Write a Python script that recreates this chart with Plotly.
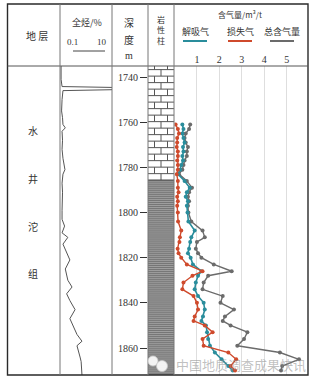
import plotly.graph_objects as go

W, H = 316, 382

# ---------------- data ----------------
depth = [1761, 1763, 1765, 1767, 1769, 1771, 1773, 1775, 1777, 1779, 1781, 1783,
         1786, 1789, 1791, 1793, 1795, 1797, 1800, 1804, 1808, 1811, 1813, 1816,
         1818, 1820, 1823, 1826, 1828, 1831, 1834, 1837, 1840, 1843, 1846, 1848,
         1850, 1853, 1856, 1859, 1862, 1865, 1868, 1870]
desorbed = [0.35, 0.40, 0.35, 0.40, 0.45, 0.38, 0.40, 0.35, 0.38, 0.30, 0.25, 0.15,
            0.45, 0.68, 0.55, 0.50, 0.60, 0.55, 0.58, 0.62, 0.90, 0.75, 0.70, 0.65,
            0.60, 0.72, 0.82, 1.20, 1.05, 0.95, 0.90, 1.05, 1.30, 1.35, 1.27, 1.20,
            1.40, 1.45, 1.50, 1.58, 1.80, 2.10, 2.40, 2.60]
lost = [0.05, 0.15, 0.20, 0.12, 0.12, 0.10, 0.15, 0.15, 0.12, 0.15, 0.15, 0.10,
        0.15, 0.15, 0.18, 0.12, 0.15, 0.12, 0.15, 0.16, 0.30, 0.24, 0.22, 0.14,
        0.18, 0.30, 0.55, 1.25, 0.80, 0.40, 0.35, 0.85, 1.00, 1.05, 0.90, 0.85,
        1.35, 1.70, 1.25, 1.30, 2.40, 2.75, 2.50, 2.70]
total = [0.70, 0.65, 0.50, 0.45, 0.50, 0.60, 0.55, 0.55, 0.45, 0.40, 0.35, 0.20,
         0.55, 0.78, 0.65, 0.60, 0.65, 0.60, 0.62, 0.75, 1.25, 1.35, 1.00, 0.95,
         1.05, 1.20, 1.75, 2.55, 1.50, 1.30, 1.25, 2.15, 2.05, 2.65, 2.25, 2.15,
         2.50, 3.25, 3.10, 2.80, 4.70, 5.55, 4.80, 4.75]

tg_depth = [1735.1, 1741, 1744.2, 1744.6, 1745.6, 1746.0, 1750, 1755, 1758, 1761,
            1762.5, 1764, 1768, 1772, 1776, 1779, 1781, 1783, 1787, 1791, 1795,
            1799, 1803, 1806, 1809, 1811, 1814, 1818, 1821, 1825, 1830, 1833,
            1836, 1839, 1843, 1847, 1850, 1854, 1857, 1859, 1864, 1866, 1872]
tg_value = [0.11, 0.11, 0.12, 11.0, 10.0, 0.13, 0.12, 0.115, 0.125, 0.13,
            0.16, 0.12, 0.125, 0.12, 0.13, 0.14, 0.155, 0.13, 0.12, 0.125, 0.12,
            0.12, 0.12, 0.15, 0.12, 0.20, 0.13, 0.18, 0.24, 0.16, 0.20, 0.29,
            0.18, 0.24, 0.38, 0.24, 0.32, 0.45, 0.70, 0.45, 0.59, 0.65, 0.70]

litho_top = [1735.1, 1785.6]
litho_base = [1785.6, 1872.0]
litho_type = ["limestone", "shale"]

depth_ticks = [1740, 1760, 1780, 1800, 1820, 1840, 1860]
gas_ticks = [1, 2, 3, 4, 5]
strata_chars = ["水", "井", "沱", "组"]

# ---------------- helpers ----------------
def px(x):
    return x / W


def py(y):
    return 1 - y / H


CJK = "Noto Sans CJK SC"
SERIF = "Liberation Serif"
TXT = "#333333"
TEAL = "#2a8d9c"
RED = "#cf4a2c"
GRAY = "#6b6b6b"

fig = go.Figure()

fig.add_trace(go.Scatter(x=total, y=depth, xaxis="x", yaxis="y", mode="lines+markers",
                         line=dict(color=GRAY, width=1.4), marker=dict(size=4, color=GRAY),
                         name="总含气量", showlegend=False))
fig.add_trace(go.Scatter(x=desorbed, y=depth, xaxis="x", yaxis="y", mode="lines+markers",
                         line=dict(color=TEAL, width=1.6), marker=dict(size=4, color=TEAL),
                         name="解吸气", showlegend=False))
fig.add_trace(go.Scatter(x=lost, y=depth, xaxis="x", yaxis="y", mode="lines+markers",
                         line=dict(color=RED, width=1.4), marker=dict(size=4, color=RED),
                         name="损失气", showlegend=False))
fig.add_trace(go.Scatter(x=tg_value, y=tg_depth, xaxis="x2", yaxis="y", mode="lines",
                         line=dict(color="#555555", width=1), showlegend=False))

shapes = []

# lithology column
for top, base, kind in zip(litho_top, litho_base, litho_type):
    if kind == "limestone":
        step = 2.88
        d = top + 1.6
        row = 0
        prev = top
        while prev < base - 0.01:
            nxt = min(d, base)
            joints = [0.5] if row % 2 else [0.25, 0.75]
            for j in joints:
                shapes.append(dict(type="line", xref="x3", yref="y", x0=j, x1=j, y0=prev, y1=nxt,
                                   line=dict(color="#555555", width=1)))
            if nxt < base:
                shapes.append(dict(type="line", xref="x3", yref="y", x0=0, x1=1, y0=nxt, y1=nxt,
                                   line=dict(color="#555555", width=1)))
            prev = nxt
            d += step
            row += 1
    else:
        shapes.append(dict(type="rect", xref="x3", yref="y", x0=0, x1=1, y0=top, y1=base,
                           fillcolor="#767676", line=dict(width=0), layer="below"))
        d = top + 0.5
        while d < base:
            shapes.append(dict(type="line", xref="x3", yref="y", x0=0, x1=1, y0=d, y1=d,
                               line=dict(color="#b0b0b0", width=0.7)))
            d += 0.9
        shapes.append(dict(type="line", xref="x3", yref="y", x0=0, x1=1, y0=top, y1=top,
                           line=dict(color="#444444", width=1)))

# table frame
shapes.append(dict(type="rect", xref="paper", yref="paper", x0=px(7.5), x1=px(308), y0=py(375), y1=py(4),
                   line=dict(color="#2a2a2a", width=1.4)))
shapes.append(dict(type="line", xref="paper", yref="paper", x0=px(7.5), x1=px(308), y0=py(66), y1=py(66),
                   line=dict(color="#555555", width=1)))
for xc in [60, 112, 148, 174]:
    shapes.append(dict(type="line", xref="paper", yref="paper", x0=px(xc), x1=px(xc), y0=py(375), y1=py(4),
                       line=dict(color="#777777", width=1)))

# header underlines
shapes.append(dict(type="line", xref="paper", yref="paper", x0=px(73), x1=px(105), y0=py(51), y1=py(51),
                   line=dict(color="#444444", width=1)))
for x0, x1, c in [(183, 207, TEAL), (228, 252, RED), (270, 294, GRAY)]:
    shapes.append(dict(type="line", xref="paper", yref="paper", x0=px(x0), x1=px(x1), y0=py(41), y1=py(41),
                       line=dict(color=c, width=2)))

# watermark icon
for cx, cy, r in [(153, 361, 5), (162, 366, 5.5)]:
    shapes.append(dict(type="circle", xref="paper", yref="paper", x0=px(cx - r), x1=px(cx + r),
                       y0=py(cy + r), y1=py(cy - r), fillcolor="rgba(255,255,255,0.9)",
                       line=dict(color="rgba(200,200,200,0.8)", width=1)))

annotations = []


def txt(x, y, s, size=10, family=CJK, color=TXT):
    annotations.append(dict(x=px(x), y=py(y), xref="paper", yref="paper", text=s, showarrow=False,
                            font=dict(family=family, size=size, color=color),
                            xanchor="center", yanchor="middle"))


txt(37, 35, "地 层", 10)
txt(87, 23, "全烃/%", 9)
txt(72, 42, "0.1", 9, SERIF)
txt(102, 42, "10", 9, SERIF)
txt(129, 23, "深", 10)
txt(129, 39, "度", 10)
txt(129, 56, "m", 10, SERIF)
txt(161, 30, "岩<br>性<br>柱", 8)
txt(240, 15, "含气量/m³/t", 8)
txt(195, 32, "解吸气", 9)
txt(240, 32, "损失气", 9)
txt(282, 32, "总含气量", 9)
for ch, yy in zip(strata_chars, [131, 178, 226, 273]):
    txt(33, yy, ch, 10)
txt(241, 364, "中国地质调查成果快讯", 13, CJK, "rgba(140,140,140,0.55)")

fig.update_layout(
    width=W, height=H,
    margin=dict(l=0, r=0, t=0, b=0),
    paper_bgcolor="white", plot_bgcolor="rgba(0,0,0,0)",
    showlegend=False,
    shapes=shapes,
    annotations=annotations,
    xaxis=dict(domain=[px(174.5), px(307.5)], range=[0, 5.93], anchor="y", side="top",
               tickvals=gas_ticks, ticks="", showgrid=True, gridcolor="#dedede", gridwidth=1,
               zeroline=False, showline=False,
               tickfont=dict(family=SERIF, size=10, color=TXT)),
    xaxis2=dict(domain=[px(60), px(112)], type="log", range=[-1, 1], anchor="y",
                showticklabels=False, ticks="", showgrid=False, zeroline=False, showline=False),
    xaxis3=dict(domain=[px(148), px(174)], range=[0, 1], anchor="y",
                showticklabels=False, ticks="", showgrid=False, zeroline=False, showline=False),
    yaxis=dict(domain=[py(375), py(66)], range=[1871.96, 1735.1], anchor="x3", side="left",
               tickvals=depth_ticks, ticks="outside", ticklen=7, tickcolor="#333333", tickwidth=1,
               showgrid=False, zeroline=False, showline=False,
               tickfont=dict(family=SERIF, size=10, color=TXT)),
)

fig.write_html("out.html")
